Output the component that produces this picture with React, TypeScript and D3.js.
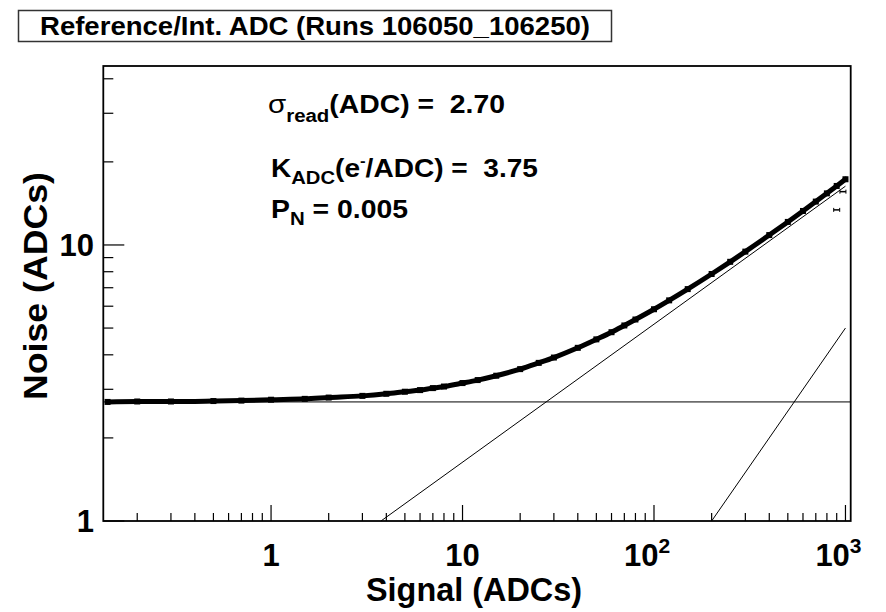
import React from "react";
import * as d3 from "d3";

const W = 886;
const H = 612;

const titleText = "Reference/Int. ADC (Runs 106050_106250)";
const xTickValues = [1, 10, 100, 1000];
const xTickLabels = ["1", "10", "10", "10"];
const xTickExps = ["", "", "2", "3"];
const yTickValues = [1, 10];
const yTickLabels = ["1", "10"];

const signal = [0.14, 0.2, 0.3, 0.5, 0.7, 1, 1.5, 2, 3, 4, 5, 6, 7, 8, 10, 12, 15, 20, 25, 30, 40, 50, 60, 70, 80, 100, 120, 150, 200, 250, 300, 400, 500, 600, 700, 800, 900, 1000];
const noise = [2.7, 2.71, 2.71, 2.72, 2.73, 2.75, 2.77, 2.8, 2.84, 2.89, 2.94, 2.98, 3.03, 3.07, 3.16, 3.24, 3.36, 3.55, 3.74, 3.91, 4.24, 4.55, 4.83, 5.11, 5.37, 5.85, 6.3, 6.92, 7.85, 8.69, 9.46, 10.86, 12.12, 13.28, 14.36, 15.38, 16.36, 17.3];
// a few stray points near the right edge
const outlierSignal = [900, 970];
const outlierNoise = [13.4, 15.6];

// fit components: read-noise, shot-noise and pattern-noise lines (endpoints)
const readLineX = [0.133, 1065];
const readLineY = [2.7, 2.7];
const shotLineX = [3.75, 1000];
const shotLineY = [1, 16.33];
const patternLineX = [200, 1000];
const patternLineY = [1, 5];

const FONT = "'Liberation Sans', Arial, Helvetica, sans-serif";

export default function App() {
  const left = 103.3, right = 850.7, top = 66, bottom = 521;
  const x = d3.scaleLog().domain([0.133, 1065]).range([left, right]);
  const y = d3.scaleLog().domain([1, 44.5]).range([bottom, top]);

  const xMinor: number[] = [];
  for (const dec of [0.1, 1, 10, 100]) {
    for (let k = 2; k <= 9; k++) {
      const v = k * dec;
      if (v >= 0.133 && v <= 1065) xMinor.push(v);
    }
  }
  const yMinor: number[] = [];
  for (const dec of [1, 10]) {
    for (let k = 2; k <= 9; k++) {
      const v = k * dec;
      if (v <= 44.5) yMinor.push(v);
    }
  }

  const line = d3
    .line<number>()
    .x((_, i) => x(signal[i]))
    .y((d) => y(d))
    .curve(d3.curveMonotoneX);

  const seg = (xs: number[], ys: number[]) =>
    d3.line<number>().x((_, i) => x(xs[i])).y((d) => y(d))(ys) || "";

  const pre = { whiteSpace: "pre" as const };

  return (
    <svg width={W} height={H} style={{ position: "absolute", left: 0, top: 0 }} fontFamily={FONT}>
      <rect x={0} y={0} width={W} height={H} fill="#fff" />
      {/* title box */}
      <rect x={18.5} y={10.5} width={593} height={31} fill="#fff" stroke="#333" strokeWidth={1.5} />
      <text x={40} y={35} fontSize={25} fontWeight="bold" textLength={550} lengthAdjust="spacingAndGlyphs">
        {titleText}
      </text>

      {/* fit lines */}
      <path d={seg(readLineX, readLineY)} stroke="#000" strokeWidth={1} fill="none" />
      <path d={seg(shotLineX, shotLineY)} stroke="#000" strokeWidth={1} fill="none" />
      <path d={seg(patternLineX, patternLineY)} stroke="#000" strokeWidth={1} fill="none" />

      {/* data */}
      <path d={line(noise) || ""} stroke="#000" strokeWidth={5} fill="none" strokeLinecap="round" />
      {signal.map((s, i) => (
        <rect key={i} x={x(s) - 3} y={y(noise[i]) - 3} width={6} height={6} fill="#000" />
      ))}
      {outlierSignal.map((s, i) => (
        <g key={"o" + i}>
          <line x1={x(s) - 3} x2={x(s) + 3} y1={y(outlierNoise[i])} y2={y(outlierNoise[i])} stroke="#000" strokeWidth={1.5} />
          <line x1={x(s) - 3} x2={x(s) - 3} y1={y(outlierNoise[i]) - 2} y2={y(outlierNoise[i]) + 2} stroke="#000" strokeWidth={1} />
          <line x1={x(s) + 3} x2={x(s) + 3} y1={y(outlierNoise[i]) - 2} y2={y(outlierNoise[i]) + 2} stroke="#000" strokeWidth={1} />
        </g>
      ))}

      {/* frame */}
      <rect x={left} y={top} width={right - left} height={bottom - top} fill="none" stroke="#000" strokeWidth={1.8} />

      {/* x ticks */}
      {xTickValues.map((v) => (
        <line key={"xM" + v} x1={x(v)} x2={x(v)} y1={bottom} y2={bottom - 16} stroke="#000" strokeWidth={1.2} />
      ))}
      {xMinor.map((v) => (
        <line key={"xm" + v} x1={x(v)} x2={x(v)} y1={bottom} y2={bottom - 8} stroke="#000" strokeWidth={1.2} />
      ))}
      {/* y ticks */}
      {yTickValues.map((v) => (
        <line key={"yM" + v} x1={left} x2={left + 21} y1={y(v)} y2={y(v)} stroke="#000" strokeWidth={1.2} />
      ))}
      {yMinor.map((v) => (
        <line key={"ym" + v} x1={left} x2={left + 10} y1={y(v)} y2={y(v)} stroke="#000" strokeWidth={1.2} />
      ))}

      {/* x tick labels */}
      {xTickValues.map((v, i) => (
        <text key={"xl" + v} x={x(v) - (xTickExps[i] ? 7 : 0)} y={566} fontSize={31} fontWeight="bold" textAnchor="middle">
          {xTickLabels[i]}
          {xTickExps[i] ? (
            <tspan dy={-13} fontSize={21}>
              {xTickExps[i]}
            </tspan>
          ) : null}
        </text>
      ))}
      {/* y tick labels */}
      {yTickValues.map((v, i) => (
        <text key={"yl" + v} x={94} y={y(v) + 11} fontSize={31} fontWeight="bold" textAnchor="end">
          {yTickLabels[i]}
        </text>
      ))}

      {/* axis titles */}
      <text x={474} y={601} fontSize={33} fontWeight="bold" textAnchor="middle" textLength={216} lengthAdjust="spacingAndGlyphs">
        Signal (ADCs)
      </text>
      <text transform="translate(47,286) rotate(-90)" fontSize={33} fontWeight="bold" textAnchor="middle" textLength={228} lengthAdjust="spacingAndGlyphs">
        Noise (ADCs)
      </text>

      {/* annotations */}
      <text x={268} y={113} fontSize={25} fontWeight="bold" style={pre} textLength={237} lengthAdjust="spacingAndGlyphs">
        <tspan fontWeight="normal" fontSize={26}>σ</tspan>
        <tspan dy={9} fontSize={18}>read</tspan>
        <tspan dy={-9}>(ADC) =  2.70</tspan>
      </text>
      <text x={271} y={177} fontSize={25} fontWeight="bold" style={pre} textLength={267} lengthAdjust="spacingAndGlyphs">
        K
        <tspan dy={7} fontSize={18}>ADC</tspan>
        <tspan dy={-7}>(e</tspan>
        <tspan dy={-11} fontSize={15}>-</tspan>
        <tspan dy={11}>/ADC) =  3.75</tspan>
      </text>
      <text x={271} y={218} fontSize={25} fontWeight="bold" style={pre} textLength={137} lengthAdjust="spacingAndGlyphs">
        P
        <tspan dy={7} fontSize={18}>N</tspan>
        <tspan dy={-7}> = 0.005</tspan>
      </text>
    </svg>
  );
}
